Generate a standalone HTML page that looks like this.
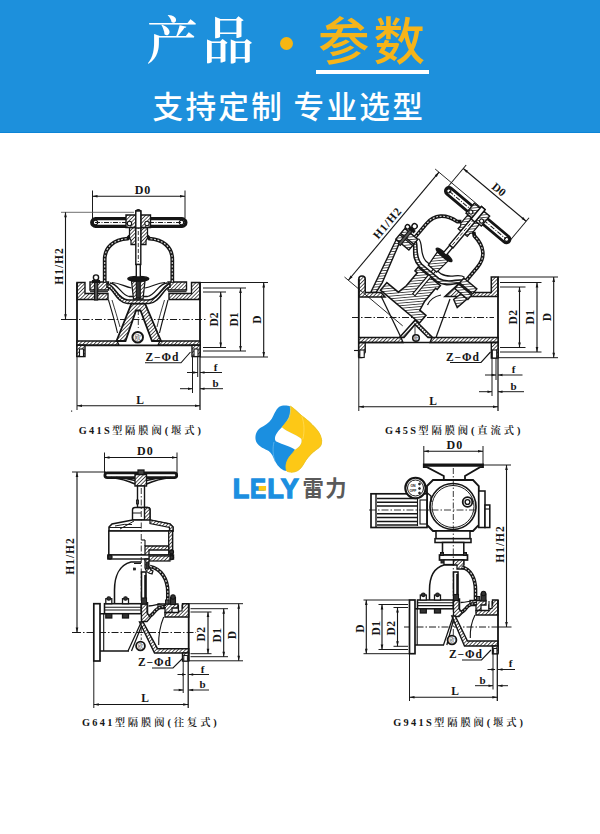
<!DOCTYPE html>
<html><head><meta charset="utf-8">
<style>
html,body{margin:0;padding:0;background:#fff;}
body{width:600px;height:834px;position:relative;overflow:hidden;font-family:"Liberation Sans","Noto Sans CJK SC",sans-serif;}
#hd{position:absolute;left:0;top:0;width:600px;height:132px;background:#1d90dc;border-bottom:1px solid #0c84d6;}
.t{position:absolute;white-space:nowrap;line-height:1;}
#t1{left:146.5px;top:16px;font-family:"Liberation Serif","Noto Serif CJK SC",serif;font-size:51.5px;letter-spacing:4.5px;color:#fff;font-weight:600;}
#dot{position:absolute;left:280px;top:37px;width:13px;height:13px;border-radius:50%;background:#f5b613;}
#t2{left:318px;top:16.5px;font-size:51.5px;letter-spacing:4px;color:#f5b41a;font-weight:500;}
#ul{position:absolute;left:316px;top:70px;width:113px;height:4px;background:#fff;}
#t3{left:152.5px;top:92px;font-size:30.6px;letter-spacing:2.3px;word-spacing:-1.3px;color:#fff;font-weight:500;}
svg{position:absolute;left:0;top:0;}
</style></head><body>
<div id="hd"></div>
<div class="t" id="t1">产品</div>
<div id="dot"></div>
<div class="t" id="t2">参数</div>
<div id="ul"></div>
<div class="t" id="t3">支持定制 专业选型</div>
<svg id="dw" width="600" height="834" viewBox="0 0 600 834" fill="none" stroke="#111" stroke-width="1">
<defs>
<pattern id="h" width="2.6" height="2.6" patternUnits="userSpaceOnUse" patternTransform="rotate(45)"><rect width="2.6" height="2.6" fill="#fff" stroke="none"/><line x1="0" y1="0" x2="0" y2="2.6" stroke="#222" stroke-width="1.5"/></pattern>
<pattern id="h2" width="2.6" height="2.6" patternUnits="userSpaceOnUse" patternTransform="rotate(-45)"><rect width="2.6" height="2.6" fill="#fff" stroke="none"/><line x1="0" y1="0" x2="0" y2="2.6" stroke="#222" stroke-width="1.5"/></pattern>
</defs>
<!--DRAW1-->
<g id="d1"><line x1="70" y1="319.5" x2="206" y2="319.5" stroke="#151515" stroke-width="0.9799999999999999" stroke-dasharray="7 2 1.5 2"/>
<line x1="138.3" y1="300" x2="138.3" y2="330" stroke="#151515" stroke-width="0.84" stroke-dasharray="5 2 1 2"/>
<path d="M77 282.5H85V293.5H108V299.5H77Z" stroke="#151515" stroke-width="1.4" fill="url(#h)" />
<path d="M200 282.5H191.5V293.5H169V299.5H200Z" stroke="#151515" stroke-width="1.4" fill="url(#h)" />
<path d="M90 282H108.5V290H90Z" stroke="#151515" stroke-width="1.4" fill="url(#h)" />
<path d="M186.5 282H168V290H186.5Z" stroke="#151515" stroke-width="1.4" fill="url(#h)" />
<line x1="90" y1="291.7" x2="108" y2="291.7" stroke="#151515" stroke-width="1.1199999999999999"/>
<line x1="168" y1="291.7" x2="186.5" y2="291.7" stroke="#151515" stroke-width="1.1199999999999999"/>
<line x1="77" y1="282.5" x2="77" y2="357" stroke="#151515" stroke-width="1.8199999999999998"/>
<line x1="200" y1="282.5" x2="200" y2="357" stroke="#151515" stroke-width="1.8199999999999998"/>
<path d="M77 341H117L119 345.3H77Z" stroke="#151515" stroke-width="1.4" fill="url(#h)" />
<path d="M200 341H160L158 345.3H200Z" stroke="#151515" stroke-width="1.4" fill="url(#h)" />
<line x1="77" y1="345.3" x2="200" y2="345.3" stroke="#151515" stroke-width="1.68"/>
<path d="M77 345.3H85V356.5H77Z" stroke="#151515" stroke-width="1.4" fill="url(#h)" />
<path d="M200 345.3H192V356.5H200Z" stroke="#151515" stroke-width="1.4" fill="url(#h)" />
<rect x="79.5" y="349" width="4" height="7.5" stroke="#151515" stroke-width="1.1199999999999999" fill="#fff"/>
<rect x="194" y="349" width="4" height="7.5" stroke="#151515" stroke-width="1.1199999999999999" fill="#fff"/>
<path d="M131.5 303.5H145L161 341H152L140.5 310.5H136L125.5 341H116.5Z" stroke="#151515" stroke-width="1.8199999999999998" fill="url(#h)" />
<path d="M108.5 300C112 312 115 322 117.5 333" stroke="#151515" stroke-width="1.1199999999999999" fill="none" />
<path d="M168 300C165 312 162 322 159.5 333" stroke="#151515" stroke-width="1.1199999999999999" fill="none" />
<path d="M112 300C115 310 117.5 318 120 327" stroke="#151515" stroke-width="0.84" fill="none" />
<path d="M164.5 300C161.5 310 159 318 157 327" stroke="#151515" stroke-width="0.84" fill="none" />
<circle cx="137.7" cy="337.3" r="5.3" stroke="#151515" stroke-width="1.9599999999999997" fill="#fff"/>
<text x="137.7" y="340" font-family="&quot;Liberation Serif&quot;,&quot;Noto Serif CJK SC&quot;,serif" font-size="6.5" font-weight="normal" text-anchor="middle" fill="#151515" stroke="none" stroke-width="0" >欧</text>
<path d="M107 283.5C114 284 117 299 128 300H148.5C159.5 299 163 284 170 283.5L170 287C163 288 160.5 302.5 149 303.5H127.5C116 302.5 114 288 107 287Z" stroke="#151515" stroke-width="1.54" fill="url(#h)" />
<path d="M110 283C118 283.5 121 295 129 296.5H147.5C155.5 295 158.5 283.5 167 283" stroke="#151515" stroke-width="1.26" fill="none" />
<path d="M112 282.5C120 283 124 286.5 131.5 288" stroke="#151515" stroke-width="1.1199999999999999" fill="none" />
<path d="M165 282.5C157 283 153 286.5 145 288" stroke="#151515" stroke-width="1.1199999999999999" fill="none" />
<path d="M131.5 281L145 281L143 299H133.5Z" stroke="#151515" stroke-width="1.26" fill="url(#h)" />
<rect x="136.3" y="281" width="4" height="17" stroke="#151515" stroke-width="1.1199999999999999" fill="#333"/>
<ellipse cx="138.3" cy="278.8" rx="10.5" ry="2.3" stroke="#151515" stroke-width="1.4" fill="#151515"/>
<path d="M104.7 282.5V259.5C104.7 247 114 239.5 127.5 238.7L130 236" stroke="#151515" stroke-width="3.78" fill="none" />
<path d="M172.3 282.5V259.5C172.3 247 163 239.5 149.5 238.7L147 236" stroke="#151515" stroke-width="3.78" fill="none" />
<path d="M104.7 282V259.5C104.7 247 114 239.5 127.5 238.7" stroke="#ddd" stroke-width="1.1199999999999999" fill="none" stroke-dasharray="2 1.6"/>
<path d="M172.3 282V259.5C172.3 247 163 239.5 149.5 238.7" stroke="#ddd" stroke-width="1.1199999999999999" fill="none" stroke-dasharray="2 1.6"/>
<path d="M129.5 227.5H135.8V244.5H131V240.5L129.5 238Z" stroke="#151515" stroke-width="1.26" fill="url(#h)" />
<path d="M147.5 227.5H140.8V244.5H146V240.5L147.5 238Z" stroke="#151515" stroke-width="1.26" fill="url(#h)" />
<rect x="135.8" y="211" width="5" height="53.5" stroke="#151515" stroke-width="1.4" fill="#fff"/>
<line x1="138.3" y1="213" x2="138.3" y2="262" stroke="#151515" stroke-width="0.84" stroke-dasharray="4 2"/>
<rect x="136.3" y="264.5" width="4" height="12.5" stroke="#151515" stroke-width="1.4" fill="#fff"/>
<path d="M136 211Q138.3 208.5 140.6 211" stroke="#151515" stroke-width="1.4" fill="none" />
<rect x="91.7" y="218.7" width="94.2" height="7.6" stroke="#151515" stroke-width="3.2199999999999998" fill="#fff" rx="3.8"/>
<line x1="95" y1="222.5" x2="182" y2="222.5" stroke="#151515" stroke-width="0.9799999999999999" stroke-dasharray="5 1.5 1 1.5"/>
<circle cx="95.5" cy="222.5" r="2.2" stroke="#151515" stroke-width="1.1199999999999999" fill="none"/>
<circle cx="181.5" cy="222.5" r="2.2" stroke="#151515" stroke-width="1.1199999999999999" fill="none"/>
<path d="M126 215H135.8V227.5H126Z" stroke="#151515" stroke-width="1.4" fill="url(#h)" />
<path d="M150.5 215H140.8V227.5H150.5Z" stroke="#151515" stroke-width="1.4" fill="url(#h)" />
<circle cx="129.5" cy="223.5" r="2.2" stroke="#151515" stroke-width="1.1199999999999999" fill="#fff"/>
<circle cx="147" cy="223.5" r="2.2" stroke="#151515" stroke-width="1.1199999999999999" fill="#fff"/>
<rect x="135.8" y="211" width="5" height="17" stroke="#151515" stroke-width="1.4" fill="#fff"/>
<rect x="94.5" y="279" width="3.2" height="21" stroke="#151515" stroke-width="1.1199999999999999" fill="#555"/>
<circle cx="96" cy="277.5" r="2.6" stroke="#151515" stroke-width="1.4" fill="#fff"/>
<rect x="92.5" y="280.5" width="7" height="2" stroke="#151515" stroke-width="1.1199999999999999" fill="#151515"/>
<line x1="92.5" y1="190.5" x2="92.5" y2="221" stroke="#151515" stroke-width="0.9799999999999999"/>
<line x1="185" y1="190.5" x2="185" y2="218" stroke="#151515" stroke-width="0.9799999999999999"/>
<line x1="92.5" y1="196.3" x2="185" y2="196.3" stroke="#151515" stroke-width="1.1199999999999999"/><path d="M185 196.3L180 197.6L180 195Z" fill="#151515" stroke="none"/><path d="M92.5 196.3L97.5 195L97.5 197.6Z" fill="#151515" stroke="none"/>
<text x="142.8" y="194.3" font-family="&quot;Liberation Serif&quot;,&quot;Noto Serif CJK SC&quot;,serif" font-size="12" font-weight="bold" text-anchor="middle" fill="#151515" stroke="none" stroke-width="0" letter-spacing="0.6" >D0</text>
<line x1="61" y1="212.3" x2="134" y2="212.3" stroke="#555" stroke-width="0.84"/>
<line x1="61" y1="319.5" x2="72" y2="319.5" stroke="#151515" stroke-width="0.9799999999999999"/>
<line x1="65.5" y1="212.3" x2="65.5" y2="319.3" stroke="#151515" stroke-width="1.1199999999999999"/><path d="M65.5 319.3L64.2 314.3L66.8 314.3Z" fill="#151515" stroke="none"/><path d="M65.5 212.3L66.8 217.3L64.2 217.3Z" fill="#151515" stroke="none"/>
<text x="62.5" y="266" font-family="&quot;Liberation Serif&quot;,&quot;Noto Serif CJK SC&quot;,serif" font-size="11.5" font-weight="bold" text-anchor="middle" fill="#151515" stroke="none" stroke-width="0" letter-spacing="1" transform="rotate(-90 62.5 266)" >H1/H2</text>
<line x1="200" y1="282.5" x2="268" y2="282.5" stroke="#151515" stroke-width="0.9799999999999999"/>
<line x1="200" y1="357" x2="268" y2="357" stroke="#151515" stroke-width="0.9799999999999999"/>
<line x1="263.7" y1="282.5" x2="263.7" y2="357" stroke="#151515" stroke-width="1.1199999999999999"/><path d="M263.7 357L262.4 352L265 352Z" fill="#151515" stroke="none"/><path d="M263.7 282.5L265 287.5L262.4 287.5Z" fill="#151515" stroke="none"/>
<text x="261" y="319.5" font-family="&quot;Liberation Serif&quot;,&quot;Noto Serif CJK SC&quot;,serif" font-size="11.5" font-weight="bold" text-anchor="middle" fill="#151515" stroke="none" stroke-width="0" transform="rotate(-90 261 319.5)" >D</text>
<line x1="203" y1="288" x2="246" y2="288" stroke="#151515" stroke-width="0.9799999999999999"/>
<line x1="203" y1="351" x2="246" y2="351" stroke="#151515" stroke-width="0.9799999999999999"/>
<line x1="240.5" y1="288" x2="240.5" y2="351" stroke="#151515" stroke-width="1.1199999999999999"/><path d="M240.5 351L239.2 346L241.8 346Z" fill="#151515" stroke="none"/><path d="M240.5 288L241.8 293L239.2 293Z" fill="#151515" stroke="none"/>
<text x="237.5" y="319.5" font-family="&quot;Liberation Serif&quot;,&quot;Noto Serif CJK SC&quot;,serif" font-size="11.5" font-weight="bold" text-anchor="middle" fill="#151515" stroke="none" stroke-width="0" transform="rotate(-90 237.5 319.5)" >D1</text>
<line x1="203" y1="292" x2="226" y2="292" stroke="#151515" stroke-width="0.9799999999999999"/>
<line x1="203" y1="347.5" x2="226" y2="347.5" stroke="#151515" stroke-width="0.9799999999999999"/>
<line x1="220.7" y1="292" x2="220.7" y2="347.5" stroke="#151515" stroke-width="1.1199999999999999"/><path d="M220.7 347.5L219.4 342.5L222 342.5Z" fill="#151515" stroke="none"/><path d="M220.7 292L222 297L219.4 297Z" fill="#151515" stroke="none"/>
<text x="217.8" y="319.5" font-family="&quot;Liberation Serif&quot;,&quot;Noto Serif CJK SC&quot;,serif" font-size="11.5" font-weight="bold" text-anchor="middle" fill="#151515" stroke="none" stroke-width="0" transform="rotate(-90 217.8 319.5)" >D2</text>
<line x1="192.5" y1="357" x2="192.5" y2="393" stroke="#151515" stroke-width="0.9799999999999999"/>
<line x1="197.7" y1="357" x2="197.7" y2="377" stroke="#151515" stroke-width="0.9799999999999999"/>
<line x1="187" y1="372.5" x2="197.7" y2="372.5" stroke="#151515" stroke-width="0.9799999999999999"/>
<path d="M197.7 372.5L193.2 373.8L193.2 371.2Z" fill="#151515" stroke="none"/>
<line x1="200" y1="372.5" x2="222" y2="372.5" stroke="#151515" stroke-width="0.9799999999999999"/>
<path d="M200 372.5L204.5 371.2L204.5 373.8Z" fill="#151515" stroke="none"/>
<text x="215.5" y="370.5" font-family="&quot;Liberation Serif&quot;,&quot;Noto Serif CJK SC&quot;,serif" font-size="11" font-weight="bold" text-anchor="middle" fill="#151515" stroke="none" stroke-width="0" >f</text>
<line x1="180" y1="388.7" x2="192.5" y2="388.7" stroke="#151515" stroke-width="0.9799999999999999"/>
<path d="M192.5 388.7L188 390L188 387.4Z" fill="#151515" stroke="none"/>
<line x1="200" y1="388.7" x2="223" y2="388.7" stroke="#151515" stroke-width="0.9799999999999999"/>
<path d="M200 388.7L204.5 387.4L204.5 390Z" fill="#151515" stroke="none"/>
<text x="215.5" y="386.5" font-family="&quot;Liberation Serif&quot;,&quot;Noto Serif CJK SC&quot;,serif" font-size="11" font-weight="bold" text-anchor="middle" fill="#151515" stroke="none" stroke-width="0" >b</text>
<line x1="77" y1="357" x2="77" y2="410" stroke="#151515" stroke-width="0.9799999999999999"/>
<line x1="200" y1="357" x2="200" y2="410" stroke="#151515" stroke-width="1.26"/>
<line x1="77" y1="405.8" x2="200" y2="405.8" stroke="#151515" stroke-width="1.1199999999999999"/><path d="M200 405.8L195 407.1L195 404.5Z" fill="#151515" stroke="none"/><path d="M77 405.8L82 404.5L82 407.1Z" fill="#151515" stroke="none"/>
<text x="140" y="403.5" font-family="&quot;Liberation Serif&quot;,&quot;Noto Serif CJK SC&quot;,serif" font-size="11.5" font-weight="bold" text-anchor="middle" fill="#151515" stroke="none" stroke-width="0" >L</text>
<text x="145.5" y="361.2" font-family="&quot;Liberation Serif&quot;,&quot;Noto Serif CJK SC&quot;,serif" font-size="11.5" font-weight="bold" text-anchor="start" fill="#151515" stroke="none" stroke-width="0" letter-spacing="0.9" >Z−Φd</text>
<path d="M145 362.8H181L190.5 352" stroke="#151515" stroke-width="1.1199999999999999" fill="none" />
<text x="78.7" y="434" font-family="&quot;Liberation Serif&quot;,&quot;Noto Serif CJK SC&quot;,serif" font-size="10.3" font-weight="500" text-anchor="start" fill="#151515" stroke="none" stroke-width="0" ><tspan font-weight="bold" letter-spacing="2.3">G41S</tspan><tspan letter-spacing="2.9" font-weight="600">型隔膜阀(堰式)</tspan></text>
<rect x="71" y="410.5" width="1.2" height="1.2" stroke="#151515" stroke-width="0.0" fill="#333"/></g>
<!--/DRAW1-->
<!--DRAW2-->
<g id="d2"><line x1="352" y1="317.5" x2="494" y2="317.5" stroke="#151515" stroke-width="0.9799999999999999" stroke-dasharray="7 2 1.5 2"/>
<path d="M358.8 279Q358.8 276 362 276Q365.2 276 365.2 279V292.5H381L385 297H358.8Z" stroke="#151515" stroke-width="1.54" fill="url(#h)" />
<line x1="358.8" y1="279" x2="358.8" y2="357.5" stroke="#151515" stroke-width="1.8199999999999998"/>
<path d="M358.8 337.5H401L403 342.5H358.8Z" stroke="#151515" stroke-width="1.4" fill="url(#h)" />
<path d="M358.8 342.5H365.2V352L362 357.5H358.8Z" stroke="#151515" stroke-width="1.4" fill="url(#h)" />
<rect x="359.8" y="350" width="4.4" height="7.5" stroke="#151515" stroke-width="1.1199999999999999" fill="#fff"/>
<line x1="354" y1="350.5" x2="358" y2="350.5" stroke="#151515" stroke-width="1.1199999999999999"/>
<path d="M498 277H491.3V292.5H470L458.8 283.8L445 296.5H498Z" stroke="#151515" stroke-width="1.54" fill="url(#h)" />
<line x1="498" y1="277" x2="498" y2="358" stroke="#151515" stroke-width="1.8199999999999998"/>
<path d="M498 337.5H432L430 342.5H498Z" stroke="#151515" stroke-width="1.4" fill="url(#h)" />
<path d="M498 342.5H491.3V358H498Z" stroke="#151515" stroke-width="1.4" fill="url(#h)" />
<rect x="492.3" y="350" width="4.4" height="8" stroke="#151515" stroke-width="1.1199999999999999" fill="#fff"/>
<line x1="358.8" y1="342.5" x2="498" y2="342.5" stroke="#151515" stroke-width="1.68"/>
<path d="M415 320L432.5 337.5H428L415 324.5L404 337.5H399.5Z" stroke="#151515" stroke-width="1.54" fill="url(#h)" />
<line x1="381" y1="296" x2="401" y2="337.5" stroke="#151515" stroke-width="1.26"/>
<line x1="450" y1="299" x2="436" y2="337.5" stroke="#151515" stroke-width="1.26"/>
<line x1="415" y1="323" x2="415" y2="337" stroke="#151515" stroke-width="0.84"/>
<circle cx="416" cy="338" r="3.3" stroke="#151515" stroke-width="1.54" fill="#fff"/>
<text x="416" y="339.8" font-family="&quot;Liberation Serif&quot;,&quot;Noto Serif CJK SC&quot;,serif" font-size="4.5" font-weight="normal" text-anchor="middle" fill="#151515" stroke="none" stroke-width="0" >欧</text>
<path d="M427.5 305Q431 297 441 295" stroke="#151515" stroke-width="1.26" fill="none" /><g transform="translate(477.5 215) rotate(40)"><line x1="-62" y1="-8" x2="0" y2="-8" stroke="#151515" stroke-width="0.84"/>
<line x1="-62" y1="133" x2="14" y2="133" stroke="#151515" stroke-width="0.84"/>
<line x1="-57" y1="-8" x2="-57" y2="133" stroke="#151515" stroke-width="1.1199999999999999"/><path d="M-57 133L-58.3 128L-55.7 128Z" fill="#151515" stroke="none"/><path d="M-57 -8L-55.7 -3L-58.3 -3Z" fill="#151515" stroke="none"/>
<text x="-60" y="64" font-family="&quot;Liberation Serif&quot;,&quot;Noto Serif CJK SC&quot;,serif" font-size="11.5" font-weight="bold" text-anchor="middle" fill="#151515" stroke="none" stroke-width="0" letter-spacing="1" transform="rotate(-90 -60 64)" >H1/H2</text>
<line x1="-40.8" y1="-2" x2="-40.8" y2="-31" stroke="#151515" stroke-width="0.9799999999999999"/>
<line x1="41.3" y1="-2" x2="41.3" y2="-31" stroke="#151515" stroke-width="0.9799999999999999"/>
<line x1="-40.8" y1="-26.5" x2="41.3" y2="-26.5" stroke="#151515" stroke-width="1.1199999999999999"/><path d="M41.3 -26.5L36.3 -25.2L36.3 -27.8Z" fill="#151515" stroke="none"/><path d="M-40.8 -26.5L-35.8 -27.8L-35.8 -25.2Z" fill="#151515" stroke="none"/>
<text x="0" y="-29.5" font-family="&quot;Liberation Serif&quot;,&quot;Noto Serif CJK SC&quot;,serif" font-size="11.5" font-weight="bold" text-anchor="middle" fill="#151515" stroke="none" stroke-width="0" >D0</text>
<path d="M-46.5 71H-42L-29.5 113L-28 124L-32 128Z" stroke="#151515" stroke-width="1.4" fill="url(#h)" />
<path d="M46 71H38L36 80L44 84Z" stroke="#151515" stroke-width="1.4" fill="url(#h)" />
<path d="M-26 110H-11L-9 100V83H-12V78H17V83H15V100L17 110H25V120H-26Z" stroke="#151515" stroke-width="1.54" fill="url(#h)" />
<rect x="1" y="62" width="3" height="40" stroke="#151515" stroke-width="1.1199999999999999" fill="#fff"/>
<path d="M-33 58.5C-26 59 -23 72 -11 73.5H11C23 72 26 59 33 58.5L33 62C27 63 25 76 11 77H-11C-25 76 -27 63 -33 62Z" stroke="#151515" stroke-width="1.54" fill="url(#h)" />
<path d="M-30 56C-23 56.5 -20 67 -10 68.5H10C20 67 23 56.5 30 56" stroke="#151515" stroke-width="1.26" fill="none" />
<path d="M-7 54H7L5.5 70H-5.5Z" stroke="#151515" stroke-width="1.26" fill="url(#h)" />
<ellipse cx="0" cy="52" rx="10" ry="2.3" stroke="#151515" stroke-width="1.4" fill="#151515"/>
<path d="M-47 57H-30V63.5H-47Z" stroke="#151515" stroke-width="1.4" fill="url(#h)" />
<path d="M47 57H30V63.5H47Z" stroke="#151515" stroke-width="1.4" fill="url(#h)" />
<path d="M-47 65H-30V71H-47Z" stroke="#151515" stroke-width="1.4" fill="url(#h)" />
<path d="M47 65H30V71H47Z" stroke="#151515" stroke-width="1.4" fill="url(#h)" />
<rect x="-42.5" y="50" width="3" height="23" stroke="#151515" stroke-width="1.1199999999999999" fill="#555"/>
<circle cx="-41" cy="49" r="2.6" stroke="#151515" stroke-width="1.4" fill="#fff"/>
<rect x="-44.5" y="52.5" width="7" height="2.2" stroke="#151515" stroke-width="1.1199999999999999" fill="#151515"/>
<circle cx="-46" cy="54" r="2.2" stroke="#151515" stroke-width="1.4" fill="#fff"/>
<path d="M-33.5 57V40C-33.5 27 -25 19.5 -11 18L-8 15.5" stroke="#151515" stroke-width="3.78" fill="none" />
<path d="M33.5 57V40C33.5 27 25 19.5 11 18L8 15.5" stroke="#151515" stroke-width="3.78" fill="none" />
<path d="M-33.5 56.5V40C-33.5 27 -25 19.5 -11 18" stroke="#ddd" stroke-width="1.1199999999999999" fill="none" stroke-dasharray="2 1.6"/>
<path d="M33.5 56.5V40C33.5 27 25 19.5 11 18" stroke="#ddd" stroke-width="1.1199999999999999" fill="none" stroke-dasharray="2 1.6"/>
<path d="M-7.5 6H-2.4V23H-6V19L-7.5 17Z" stroke="#151515" stroke-width="1.26" fill="url(#h)" />
<path d="M7.5 6H2.4V23H6V19L7.5 17Z" stroke="#151515" stroke-width="1.26" fill="url(#h)" />
<rect x="-2.4" y="-9" width="4.8" height="50" stroke="#151515" stroke-width="1.4" fill="#fff"/>
<line x1="0" y1="-7" x2="0" y2="40" stroke="#151515" stroke-width="0.84" stroke-dasharray="4 2"/>
<rect x="-1.9" y="41" width="3.8" height="10" stroke="#151515" stroke-width="1.4" fill="#fff"/>
<rect x="-40.8" y="-3.6" width="82.1" height="7.2" stroke="#151515" stroke-width="2.8" fill="#fff" rx="3.6"/>
<line x1="-37" y1="0" x2="37" y2="0" stroke="#151515" stroke-width="0.9799999999999999" stroke-dasharray="5 1.5 1 1.5"/>
<circle cx="-37.5" cy="0" r="2" stroke="#151515" stroke-width="1.1199999999999999" fill="none"/>
<circle cx="38" cy="0" r="2" stroke="#151515" stroke-width="1.1199999999999999" fill="none"/>
<path d="M-10 -7H-2.4V6H-10Z" stroke="#151515" stroke-width="1.4" fill="url(#h)" />
<path d="M10 -7H2.4V6H10Z" stroke="#151515" stroke-width="1.4" fill="url(#h)" />
<circle cx="-7" cy="2" r="2" stroke="#151515" stroke-width="1.1199999999999999" fill="#fff"/>
<circle cx="7" cy="2" r="2" stroke="#151515" stroke-width="1.1199999999999999" fill="#fff"/>
<rect x="-2.4" y="-9" width="4.8" height="16" stroke="#151515" stroke-width="1.4" fill="#fff"/></g><line x1="498" y1="277" x2="558" y2="277" stroke="#151515" stroke-width="0.9799999999999999"/>
<line x1="498" y1="357.7" x2="558" y2="357.7" stroke="#151515" stroke-width="0.9799999999999999"/>
<line x1="553.7" y1="277" x2="553.7" y2="357.7" stroke="#151515" stroke-width="1.1199999999999999"/><path d="M553.7 357.7L552.4 352.7L555 352.7Z" fill="#151515" stroke="none"/><path d="M553.7 277L555 282L552.4 282Z" fill="#151515" stroke="none"/>
<text x="551" y="317" font-family="&quot;Liberation Serif&quot;,&quot;Noto Serif CJK SC&quot;,serif" font-size="11.5" font-weight="bold" text-anchor="middle" fill="#151515" stroke="none" stroke-width="0" transform="rotate(-90 551 317)" >D</text>
<line x1="500" y1="282.5" x2="541.5" y2="282.5" stroke="#151515" stroke-width="0.9799999999999999"/>
<line x1="500" y1="352" x2="541.5" y2="352" stroke="#151515" stroke-width="0.9799999999999999"/>
<line x1="537" y1="282.5" x2="537" y2="352" stroke="#151515" stroke-width="1.1199999999999999"/><path d="M537 352L535.7 347L538.3 347Z" fill="#151515" stroke="none"/><path d="M537 282.5L538.3 287.5L535.7 287.5Z" fill="#151515" stroke="none"/>
<text x="534" y="317" font-family="&quot;Liberation Serif&quot;,&quot;Noto Serif CJK SC&quot;,serif" font-size="11.5" font-weight="bold" text-anchor="middle" fill="#151515" stroke="none" stroke-width="0" letter-spacing="0.5" transform="rotate(-90 534 317)" >D1</text>
<line x1="500" y1="287" x2="525.5" y2="287" stroke="#151515" stroke-width="0.9799999999999999"/>
<line x1="500" y1="347.5" x2="525.5" y2="347.5" stroke="#151515" stroke-width="0.9799999999999999"/>
<line x1="519.5" y1="287" x2="519.5" y2="347.5" stroke="#151515" stroke-width="1.1199999999999999"/><path d="M519.5 347.5L518.2 342.5L520.8 342.5Z" fill="#151515" stroke="none"/><path d="M519.5 287L520.8 292L518.2 292Z" fill="#151515" stroke="none"/>
<text x="516.5" y="317" font-family="&quot;Liberation Serif&quot;,&quot;Noto Serif CJK SC&quot;,serif" font-size="11.5" font-weight="bold" text-anchor="middle" fill="#151515" stroke="none" stroke-width="0" letter-spacing="0.5" transform="rotate(-90 516.5 317)" >D2</text>
<line x1="492" y1="358" x2="492" y2="396" stroke="#151515" stroke-width="0.9799999999999999"/>
<line x1="496" y1="358" x2="496" y2="380" stroke="#151515" stroke-width="0.9799999999999999"/>
<line x1="485" y1="375" x2="496" y2="375" stroke="#151515" stroke-width="0.9799999999999999"/>
<path d="M496 375L491.5 376.3L491.5 373.7Z" fill="#151515" stroke="none"/>
<line x1="498" y1="375" x2="522.5" y2="375" stroke="#151515" stroke-width="0.9799999999999999"/>
<path d="M498 375L502.5 373.7L502.5 376.3Z" fill="#151515" stroke="none"/>
<text x="513.5" y="373" font-family="&quot;Liberation Serif&quot;,&quot;Noto Serif CJK SC&quot;,serif" font-size="11" font-weight="bold" text-anchor="middle" fill="#151515" stroke="none" stroke-width="0" >f</text>
<line x1="479" y1="391.7" x2="492" y2="391.7" stroke="#151515" stroke-width="0.9799999999999999"/>
<path d="M492 391.7L487.5 393L487.5 390.4Z" fill="#151515" stroke="none"/>
<line x1="498" y1="391.7" x2="524" y2="391.7" stroke="#151515" stroke-width="0.9799999999999999"/>
<path d="M498 391.7L502.5 390.4L502.5 393Z" fill="#151515" stroke="none"/>
<text x="513.5" y="389.5" font-family="&quot;Liberation Serif&quot;,&quot;Noto Serif CJK SC&quot;,serif" font-size="11" font-weight="bold" text-anchor="middle" fill="#151515" stroke="none" stroke-width="0" >b</text>
<line x1="358.8" y1="357.5" x2="358.8" y2="411" stroke="#151515" stroke-width="0.9799999999999999"/>
<line x1="498" y1="358" x2="498" y2="411" stroke="#151515" stroke-width="1.26"/>
<line x1="358.8" y1="406.7" x2="498" y2="406.7" stroke="#151515" stroke-width="1.1199999999999999"/><path d="M498 406.7L493 408L493 405.4Z" fill="#151515" stroke="none"/><path d="M358.8 406.7L363.8 405.4L363.8 408Z" fill="#151515" stroke="none"/>
<text x="433" y="404.5" font-family="&quot;Liberation Serif&quot;,&quot;Noto Serif CJK SC&quot;,serif" font-size="11.5" font-weight="bold" text-anchor="middle" fill="#151515" stroke="none" stroke-width="0" >L</text>
<text x="446" y="360.7" font-family="&quot;Liberation Serif&quot;,&quot;Noto Serif CJK SC&quot;,serif" font-size="11.5" font-weight="bold" text-anchor="start" fill="#151515" stroke="none" stroke-width="0" letter-spacing="0.9" >Z−Φd</text>
<path d="M450 362.5H481L490.5 352" stroke="#151515" stroke-width="1.1199999999999999" fill="none" />
<text x="385" y="434" font-family="&quot;Liberation Serif&quot;,&quot;Noto Serif CJK SC&quot;,serif" font-size="10.3" font-weight="500" text-anchor="start" fill="#151515" stroke="none" stroke-width="0" ><tspan font-weight="bold" letter-spacing="2.3">G45S</tspan><tspan letter-spacing="2.9" font-weight="600">型隔膜阀(直流式)</tspan></text></g>
<!--/DRAW2-->
<!--DRAW3-->
<g id="d3"><line x1="74" y1="632.5" x2="196" y2="632.5" stroke="#151515" stroke-width="0.9799999999999999" stroke-dasharray="7 2 1.5 2"/>
<rect x="104.9" y="472.9" width="71.8" height="4.8" stroke="#151515" stroke-width="2.8" fill="#fff" rx="2.4"/>
<path d="M111 477.5Q124 479 135 484M116 477.5Q126 478 135 480.5M171 477.5Q158 479 146.5 484M166 477.5Q156 478 146.5 480.5" stroke="#151515" stroke-width="1.68" fill="none" />
<rect x="135" y="474.5" width="11.5" height="11.5" stroke="#151515" stroke-width="1.4" fill="url(#h)"/>
<rect x="138" y="470" width="6" height="4.5" stroke="#151515" stroke-width="1.26" fill="#444"/>
<rect x="137.5" y="486" width="7" height="21.5" stroke="#151515" stroke-width="1.4" fill="#fff"/>
<rect x="136.5" y="500" width="2" height="4" stroke="#151515" stroke-width="0.84" fill="#444"/>
<path d="M132.5 520V510Q132.5 507.5 135 507.5H147.5Q150 507.5 150 510V520Z" stroke="#151515" stroke-width="1.4" fill="#fff" />
<path d="M144.5 507.5H147.5Q150 507.5 150 510V526H144.5Z" stroke="#151515" stroke-width="1.4" fill="url(#h)" />
<line x1="132.5" y1="513" x2="141" y2="513" stroke="#151515" stroke-width="0.9799999999999999"/>
<path d="M132.5 520L112 524L109 527V531H173V527L170 524L150 520Z" stroke="#151515" stroke-width="1.54" fill="#fff" />
<path d="M150 520L170 524L173 527V531H169.5V527.5L150 523.5Z" stroke="#151515" stroke-width="1.26" fill="url(#h)" />
<path d="M115 526Q125 523.5 132 524.5M120 529Q128 524.5 134 521" stroke="#151515" stroke-width="0.9799999999999999" fill="none" />
<line x1="109" y1="527.5" x2="141" y2="527.5" stroke="#151515" stroke-width="0.9799999999999999"/>
<rect x="108.8" y="531" width="63.7" height="24" stroke="#151515" stroke-width="1.54" fill="#fff"/>
<rect x="168.7" y="531" width="3.8" height="24" stroke="#151515" stroke-width="1.26" fill="url(#h)"/>
<path d="M145 546H168.7V550H149V560H145Z" stroke="#151515" stroke-width="1.26" fill="url(#h)" />
<line x1="141.3" y1="540" x2="145" y2="540" stroke="#151515" stroke-width="1.1199999999999999"/>
<line x1="145" y1="540" x2="145" y2="546" stroke="#151515" stroke-width="1.1199999999999999"/>
<rect x="107.8" y="555" width="65.7" height="4" stroke="#151515" stroke-width="1.4" fill="#fff"/>
<circle cx="110" cy="557" r="2" stroke="#151515" stroke-width="1.26" fill="#333"/>
<circle cx="171.5" cy="552" r="2" stroke="#151515" stroke-width="1.26" fill="#333"/>
<circle cx="171.5" cy="557.5" r="2" stroke="#151515" stroke-width="1.26" fill="#333"/>
<rect x="149" y="556" width="21" height="5" stroke="#151515" stroke-width="1.26" fill="url(#h)"/>
<path d="M145 559H149V566Q150 570 153 571L152 574Q146 573 145 568Z" stroke="#151515" stroke-width="1.26" fill="url(#h)" />
<rect x="146" y="562" width="2.5" height="7" stroke="#151515" stroke-width="0.84" fill="#333"/>
<path d="M141 562H131C119 565 114.5 577 114.5 590V603.7" stroke="#151515" stroke-width="1.54" fill="none" />
<path d="M150 566.5C161 568.5 167.8 579 167.8 592V603.7" stroke="#151515" stroke-width="3.6399999999999997" fill="none" />
<path d="M150 566.5C161 568.5 167.8 579 167.8 592V603.7" stroke="#ddd" stroke-width="1.1199999999999999" fill="none" stroke-dasharray="2 1.6"/>
<line x1="134" y1="563.5" x2="141" y2="563.5" stroke="#151515" stroke-width="0.9799999999999999"/>
<rect x="133.5" y="568" width="2" height="2" stroke="#151515" stroke-width="0.7" fill="#333"/>
<rect x="141.5" y="572" width="4.5" height="27" stroke="#151515" stroke-width="1.54" fill="#fff"/>
<line x1="145.2" y1="575" x2="145.2" y2="598" stroke="#151515" stroke-width="1.9599999999999997"/>
<rect x="104.5" y="603.7" width="36.7" height="10" stroke="#151515" stroke-width="1.54" fill="#fff"/>
<line x1="104.5" y1="607.3" x2="141" y2="607.3" stroke="#151515" stroke-width="1.1199999999999999"/>
<line x1="104.5" y1="610" x2="141" y2="610" stroke="#151515" stroke-width="1.1199999999999999"/>
<rect x="105.8" y="598.7" width="6" height="5" stroke="#151515" stroke-width="1.26" fill="#fff"/>
<circle cx="108.8" cy="598.5" r="1.8" stroke="#151515" stroke-width="1.1199999999999999" fill="#333"/>
<rect x="105.8" y="613.7" width="6" height="4.3" stroke="#151515" stroke-width="1.26" fill="#333"/>
<rect x="122.5" y="598.7" width="6" height="5" stroke="#151515" stroke-width="1.26" fill="#fff"/>
<circle cx="125.5" cy="598.5" r="1.8" stroke="#151515" stroke-width="1.1199999999999999" fill="#333"/>
<rect x="122.5" y="613.7" width="6" height="4.3" stroke="#151515" stroke-width="1.26" fill="#333"/>
<path d="M158 604H178V608H172V612.5H165V608.5H158Z" stroke="#151515" stroke-width="1.26" fill="url(#h)" />
<rect x="170.5" y="597.5" width="5" height="7" stroke="#151515" stroke-width="1.1199999999999999" fill="#333"/>
<circle cx="173" cy="597" r="2.2" stroke="#151515" stroke-width="1.1199999999999999" fill="#333"/>
<rect x="165.5" y="600" width="3.5" height="4" stroke="#151515" stroke-width="0.9799999999999999" fill="#555"/>
<path d="M141.5 603.7H146.5V613C147 618 150 617 153 613.5C157 608 160 606.5 166 606.5" stroke="#151515" stroke-width="3.5" fill="none" />
<path d="M141.5 603.7H146.5V613C147 618 150 617 153 613.5C157 608 160 606.5 166 606.5" stroke="#ccc" stroke-width="1.1199999999999999" fill="none" stroke-dasharray="1.6 1.6"/>
<path d="M148.5 606C153 606 157 604.5 160 604" stroke="#151515" stroke-width="1.26" fill="none" />
<path d="M141.5 604H147V613L150.5 617.5L147 621.5H141.5Z" stroke="#151515" stroke-width="1.26" fill="url(#h)" />
<rect x="141.5" y="598" width="5" height="6" stroke="#151515" stroke-width="1.1199999999999999" fill="#333"/>
<rect x="93.8" y="603.7" width="6.2" height="57.3" stroke="#151515" stroke-width="1.68" fill="#fff"/>
<path d="M100 613.7H104.5M100 651H129" stroke="#151515" stroke-width="1.54" fill="none" />
<line x1="103.7" y1="613.7" x2="103.7" y2="651" stroke="#151515" stroke-width="1.1199999999999999"/>
<path d="M141.3 622L128 651M141.3 626.5L131.5 651" stroke="#151515" stroke-width="1.26" fill="none" />
<path d="M139.5 622H143L157.5 648.7H188.7V653H154.5Z" stroke="#151515" stroke-width="1.4" fill="url(#h)" />
<path d="M163.7 617C160 626 158.5 636 158.7 645" stroke="#151515" stroke-width="1.1199999999999999" fill="none" />
<circle cx="140.5" cy="646" r="4.4" stroke="#151515" stroke-width="1.8199999999999998" fill="#fff"/>
<text x="140.5" y="648.2" font-family="&quot;Liberation Serif&quot;,&quot;Noto Serif CJK SC&quot;,serif" font-size="5.5" font-weight="normal" text-anchor="middle" fill="#151515" stroke="none" stroke-width="0" >欧</text>
<path d="M165 612.5H178.5V608H182.5V603.7H188.7V617H165Z" stroke="#151515" stroke-width="1.4" fill="url(#h)" />
<path d="M178.5 604.5V611H182V604.5" stroke="#151515" stroke-width="1.1199999999999999" fill="#fff" />
<line x1="188.7" y1="603.7" x2="188.7" y2="661" stroke="#151515" stroke-width="1.8199999999999998"/>
<path d="M182.5 653H188.7V661H182.5Z" stroke="#151515" stroke-width="1.4" fill="url(#h)" />
<rect x="183.8" y="655.5" width="3.6" height="5.5" stroke="#151515" stroke-width="0.9799999999999999" fill="#fff"/>
<line x1="141.25" y1="488" x2="141.25" y2="640" stroke="#151515" stroke-width="0.84" stroke-dasharray="6 2 1.5 2"/>
<line x1="104.5" y1="452.5" x2="104.5" y2="477" stroke="#151515" stroke-width="0.9799999999999999"/>
<line x1="177" y1="452.5" x2="177" y2="477" stroke="#151515" stroke-width="0.9799999999999999"/>
<line x1="104.5" y1="457.5" x2="177" y2="457.5" stroke="#151515" stroke-width="1.1199999999999999"/><path d="M177 457.5L172 458.8L172 456.2Z" fill="#151515" stroke="none"/><path d="M104.5 457.5L109.5 456.2L109.5 458.8Z" fill="#151515" stroke="none"/>
<text x="145.5" y="454.7" font-family="&quot;Liberation Serif&quot;,&quot;Noto Serif CJK SC&quot;,serif" font-size="12" font-weight="bold" text-anchor="middle" fill="#151515" stroke="none" stroke-width="0" letter-spacing="1.2" >D0</text>
<line x1="72" y1="472" x2="106" y2="472" stroke="#151515" stroke-width="0.9799999999999999"/>
<line x1="72" y1="632.5" x2="80" y2="632.5" stroke="#151515" stroke-width="0.9799999999999999"/>
<line x1="77" y1="472" x2="77" y2="632.5" stroke="#151515" stroke-width="1.1199999999999999"/><path d="M77 632.5L75.7 627.5L78.3 627.5Z" fill="#151515" stroke="none"/><path d="M77 472L78.3 477L75.7 477Z" fill="#151515" stroke="none"/>
<text x="74" y="556" font-family="&quot;Liberation Serif&quot;,&quot;Noto Serif CJK SC&quot;,serif" font-size="11.5" font-weight="bold" text-anchor="middle" fill="#151515" stroke="none" stroke-width="0" letter-spacing="1" transform="rotate(-90 74 556)" >H1/H2</text>
<line x1="188.7" y1="603.7" x2="243" y2="603.7" stroke="#151515" stroke-width="0.9799999999999999"/>
<line x1="188.7" y1="660.8" x2="243" y2="660.8" stroke="#151515" stroke-width="0.9799999999999999"/>
<line x1="238.7" y1="603.7" x2="238.7" y2="660.8" stroke="#151515" stroke-width="1.1199999999999999"/><path d="M238.7 660.8L237.4 655.8L240 655.8Z" fill="#151515" stroke="none"/><path d="M238.7 603.7L240 608.7L237.4 608.7Z" fill="#151515" stroke="none"/>
<text x="236.3" y="635" font-family="&quot;Liberation Serif&quot;,&quot;Noto Serif CJK SC&quot;,serif" font-size="11.5" font-weight="bold" text-anchor="middle" fill="#151515" stroke="none" stroke-width="0" transform="rotate(-90 236.3 635)" >D</text>
<line x1="190.5" y1="608.7" x2="228" y2="608.7" stroke="#151515" stroke-width="0.9799999999999999"/>
<line x1="190.5" y1="656.7" x2="228" y2="656.7" stroke="#151515" stroke-width="0.9799999999999999"/>
<line x1="223.7" y1="608.7" x2="223.7" y2="656.7" stroke="#151515" stroke-width="1.1199999999999999"/><path d="M223.7 656.7L222.4 651.7L225 651.7Z" fill="#151515" stroke="none"/><path d="M223.7 608.7L225 613.7L222.4 613.7Z" fill="#151515" stroke="none"/>
<text x="221.3" y="635" font-family="&quot;Liberation Serif&quot;,&quot;Noto Serif CJK SC&quot;,serif" font-size="11.5" font-weight="bold" text-anchor="middle" fill="#151515" stroke="none" stroke-width="0" letter-spacing="0.5" transform="rotate(-90 221.3 635)" >D1</text>
<line x1="190.5" y1="612" x2="211.5" y2="612" stroke="#151515" stroke-width="0.9799999999999999"/>
<line x1="190.5" y1="653.7" x2="211.5" y2="653.7" stroke="#151515" stroke-width="0.9799999999999999"/>
<line x1="208" y1="612" x2="208" y2="653.7" stroke="#151515" stroke-width="1.1199999999999999"/><path d="M208 653.7L206.7 648.7L209.3 648.7Z" fill="#151515" stroke="none"/><path d="M208 612L209.3 617L206.7 617Z" fill="#151515" stroke="none"/>
<text x="205" y="634" font-family="&quot;Liberation Serif&quot;,&quot;Noto Serif CJK SC&quot;,serif" font-size="11.5" font-weight="bold" text-anchor="middle" fill="#151515" stroke="none" stroke-width="0" letter-spacing="0.5" transform="rotate(-90 205 634)" >D2</text>
<line x1="183.2" y1="661" x2="183.2" y2="693" stroke="#151515" stroke-width="0.9799999999999999"/>
<line x1="188.2" y1="661" x2="188.2" y2="708" stroke="#151515" stroke-width="1.26"/>
<line x1="177.5" y1="674.5" x2="185.5" y2="674.5" stroke="#151515" stroke-width="0.9799999999999999"/>
<path d="M186 674.5L182 675.8L182 673.2Z" fill="#151515" stroke="none"/>
<line x1="188.7" y1="674.5" x2="209" y2="674.5" stroke="#151515" stroke-width="0.9799999999999999"/>
<path d="M188.7 674.5L193.2 673.2L193.2 675.8Z" fill="#151515" stroke="none"/>
<text x="202.5" y="672.5" font-family="&quot;Liberation Serif&quot;,&quot;Noto Serif CJK SC&quot;,serif" font-size="11" font-weight="bold" text-anchor="middle" fill="#151515" stroke="none" stroke-width="0" >f</text>
<line x1="173.5" y1="690" x2="183.2" y2="690" stroke="#151515" stroke-width="0.9799999999999999"/>
<path d="M183.2 690L178.7 691.3L178.7 688.7Z" fill="#151515" stroke="none"/>
<line x1="188.7" y1="690" x2="209" y2="690" stroke="#151515" stroke-width="0.9799999999999999"/>
<path d="M188.7 690L193.2 688.7L193.2 691.3Z" fill="#151515" stroke="none"/>
<text x="202.5" y="687.8" font-family="&quot;Liberation Serif&quot;,&quot;Noto Serif CJK SC&quot;,serif" font-size="11" font-weight="bold" text-anchor="middle" fill="#151515" stroke="none" stroke-width="0" >b</text>
<line x1="93.8" y1="661" x2="93.8" y2="708" stroke="#151515" stroke-width="0.9799999999999999"/>
<line x1="93.8" y1="704.5" x2="188.2" y2="704.5" stroke="#151515" stroke-width="1.1199999999999999"/><path d="M188.2 704.5L183.2 705.8L183.2 703.2Z" fill="#151515" stroke="none"/><path d="M93.8 704.5L98.8 703.2L98.8 705.8Z" fill="#151515" stroke="none"/>
<text x="145" y="702" font-family="&quot;Liberation Serif&quot;,&quot;Noto Serif CJK SC&quot;,serif" font-size="11.5" font-weight="bold" text-anchor="middle" fill="#151515" stroke="none" stroke-width="0" >L</text>
<text x="138" y="666" font-family="&quot;Liberation Serif&quot;,&quot;Noto Serif CJK SC&quot;,serif" font-size="11.5" font-weight="bold" text-anchor="start" fill="#151515" stroke="none" stroke-width="0" letter-spacing="0.9" >Z−Φd</text>
<path d="M152 668H173L182.5 658.5" stroke="#151515" stroke-width="1.1199999999999999" fill="none" />
<text x="82" y="725.5" font-family="&quot;Liberation Serif&quot;,&quot;Noto Serif CJK SC&quot;,serif" font-size="10.3" font-weight="500" text-anchor="start" fill="#151515" stroke="none" stroke-width="0" ><tspan font-weight="bold" letter-spacing="2.3">G641</tspan><tspan letter-spacing="2.9" font-weight="600">型隔膜阀(往复式)</tspan></text></g>
<!--/DRAW3-->
<!--DRAW4-->
<g id="d4"><line x1="404" y1="627" x2="500" y2="627" stroke="#151515" stroke-width="0.9799999999999999" stroke-dasharray="7 2 1.5 2"/>
<path d="M423.8 464.5H483V467.2H480L465 476V480H443.8V476L427 467.2H423.8Z" stroke="#151515" stroke-width="1.8199999999999998" fill="#fff" />
<line x1="423.8" y1="465.6" x2="483" y2="465.6" stroke="#151515" stroke-width="2.2399999999999998"/>
<path d="M433 480H473L478.8 486V525L473 531H433L427 525V486Z" stroke="#151515" stroke-width="1.8199999999999998" fill="#fff" />
<circle cx="453" cy="506.5" r="23" stroke="#151515" stroke-width="1.68" fill="none"/>
<circle cx="453" cy="506.5" r="21" stroke="#151515" stroke-width="0.9799999999999999" fill="none"/>
<circle cx="467.5" cy="502" r="4.8" stroke="#151515" stroke-width="1.8199999999999998" fill="#fff"/>
<circle cx="467.5" cy="502" r="2.4" stroke="#151515" stroke-width="1.4" fill="none"/>
<rect x="478.8" y="491" width="6.2" height="36.5" stroke="#151515" stroke-width="1.54" fill="#fff"/>
<rect x="485" y="505" width="4.8" height="22.5" stroke="#151515" stroke-width="1.54" fill="#fff"/>
<line x1="485" y1="509" x2="490" y2="509" stroke="#151515" stroke-width="1.1199999999999999"/>
<rect x="371" y="493.8" width="56" height="33.7" stroke="#151515" stroke-width="1.68" fill="#fff"/>
<line x1="376" y1="493.8" x2="376" y2="527.5" stroke="#151515" stroke-width="1.4"/>
<line x1="377" y1="498.5" x2="417.5" y2="498.5" stroke="#151515" stroke-width="1.54"/>
<line x1="377" y1="502.3" x2="417.5" y2="502.3" stroke="#151515" stroke-width="1.54"/>
<line x1="377" y1="506.1" x2="417.5" y2="506.1" stroke="#151515" stroke-width="1.54"/>
<line x1="377" y1="513.8" x2="417.5" y2="513.8" stroke="#151515" stroke-width="1.54"/>
<line x1="377" y1="517.6" x2="417.5" y2="517.6" stroke="#151515" stroke-width="1.54"/>
<line x1="377" y1="521.4" x2="417.5" y2="521.4" stroke="#151515" stroke-width="1.54"/>
<line x1="377" y1="525" x2="417.5" y2="525" stroke="#151515" stroke-width="1.54"/>
<path d="M417.5 496V526" stroke="#151515" stroke-width="1.1199999999999999" fill="none" />
<rect x="420" y="500" width="7" height="24" stroke="#151515" stroke-width="1.1199999999999999" fill="none"/>
<circle cx="415.5" cy="488" r="10.2" stroke="#151515" stroke-width="2.0999999999999996" fill="#fff"/>
<circle cx="415.5" cy="488" r="8" stroke="#151515" stroke-width="0.9799999999999999" fill="none"/>
<text x="413" y="487" font-family="&quot;Liberation Sans&quot;,&quot;Noto Sans CJK SC&quot;,sans-serif" font-size="3.5" font-weight="bold" text-anchor="middle" fill="#151515" stroke="none" stroke-width="0" >ON</text>
<text x="413" y="492" font-family="&quot;Liberation Sans&quot;,&quot;Noto Sans CJK SC&quot;,sans-serif" font-size="3.5" font-weight="bold" text-anchor="middle" fill="#151515" stroke="none" stroke-width="0" >OFF</text>
<circle cx="419.5" cy="484" r="1" stroke="#151515" stroke-width="0.7" fill="#222"/>
<circle cx="419.5" cy="488.5" r="1" stroke="#151515" stroke-width="0.7" fill="#222"/>
<circle cx="419.5" cy="493" r="1" stroke="#151515" stroke-width="0.7" fill="#222"/>
<path d="M425 491L431 496V502" stroke="#151515" stroke-width="1.4" fill="none" />
<rect x="436" y="531" width="34" height="7.7" stroke="#151515" stroke-width="1.54" fill="#fff"/>
<rect x="435" y="538.7" width="36" height="3.8" stroke="#151515" stroke-width="1.54" fill="#fff"/>
<rect x="442.5" y="542.5" width="21.3" height="12.5" stroke="#151515" stroke-width="1.54" fill="#fff"/>
<rect x="439.5" y="555" width="28" height="5" stroke="#151515" stroke-width="1.68" fill="#fff"/>
<rect x="440.5" y="552.5" width="3" height="3" stroke="#151515" stroke-width="0.9799999999999999" fill="#333"/>
<rect x="463.5" y="552.5" width="3" height="3" stroke="#151515" stroke-width="0.9799999999999999" fill="#333"/>
<rect x="441" y="560" width="4" height="3" stroke="#151515" stroke-width="0.9799999999999999" fill="#333"/>
<rect x="444" y="560" width="19.8" height="4.5" stroke="#151515" stroke-width="1.26" fill="#fff"/>
<path d="M453.5 560H463.8V569H457V565H453.5Z" stroke="#151515" stroke-width="1.26" fill="url(#h)" />
<path d="M453 565H444C433 568 429.5 578 429.5 590V600" stroke="#151515" stroke-width="1.54" fill="none" />
<path d="M461.5 567C471 569 475.5 579 475.5 590V600" stroke="#151515" stroke-width="3.6399999999999997" fill="none" />
<path d="M461.5 567C471 569 475.5 579 475.5 590V600" stroke="#ddd" stroke-width="1.1199999999999999" fill="none" stroke-dasharray="2 1.6"/>
<rect x="453.5" y="572" width="4.5" height="23" stroke="#151515" stroke-width="1.54" fill="#fff"/>
<line x1="457.2" y1="574" x2="457.2" y2="594" stroke="#151515" stroke-width="1.9599999999999997"/>
<rect x="417.5" y="600" width="35.8" height="8.8" stroke="#151515" stroke-width="1.54" fill="#fff"/>
<line x1="417.5" y1="602.8" x2="453" y2="602.8" stroke="#151515" stroke-width="1.1199999999999999"/>
<line x1="417.5" y1="605.6" x2="453" y2="605.6" stroke="#151515" stroke-width="1.1199999999999999"/>
<rect x="420.3" y="595" width="6" height="5" stroke="#151515" stroke-width="1.26" fill="#fff"/>
<circle cx="423.3" cy="594.8" r="1.8" stroke="#151515" stroke-width="1.1199999999999999" fill="#333"/>
<rect x="420.3" y="608.8" width="6" height="4.2" stroke="#151515" stroke-width="1.26" fill="#333"/>
<rect x="434.5" y="595" width="6" height="5" stroke="#151515" stroke-width="1.26" fill="#fff"/>
<circle cx="437.5" cy="594.8" r="1.8" stroke="#151515" stroke-width="1.1199999999999999" fill="#333"/>
<rect x="434.5" y="608.8" width="6" height="4.2" stroke="#151515" stroke-width="1.26" fill="#333"/>
<path d="M470 600.5H486V605H481V610.5H476V605.5H470Z" stroke="#151515" stroke-width="1.26" fill="url(#h)" />
<rect x="481" y="594" width="5" height="7" stroke="#151515" stroke-width="1.1199999999999999" fill="#333"/>
<circle cx="483.5" cy="593.5" r="2.2" stroke="#151515" stroke-width="1.1199999999999999" fill="#333"/>
<rect x="476.5" y="596.5" width="3.2" height="4" stroke="#151515" stroke-width="0.9799999999999999" fill="#555"/>
<path d="M453.5 600H458.5V609C459 613.5 462 613 465 609.5C468.5 605 471 603.5 477 603.5" stroke="#151515" stroke-width="3.5" fill="none" />
<path d="M453.5 600H458.5V609C459 613.5 462 613 465 609.5C468.5 605 471 603.5 477 603.5" stroke="#ccc" stroke-width="1.1199999999999999" fill="none" stroke-dasharray="1.6 1.6"/>
<path d="M460.5 602.5C465 602.5 468 601.5 471 601" stroke="#151515" stroke-width="1.26" fill="none" />
<path d="M453.5 600H459V609L462.5 613L459 616.5H453.5Z" stroke="#151515" stroke-width="1.26" fill="url(#h)" />
<rect x="453.5" y="594.5" width="5" height="6" stroke="#151515" stroke-width="1.1199999999999999" fill="#333"/>
<rect x="409.5" y="600" width="5.5" height="53.7" stroke="#151515" stroke-width="1.68" fill="#fff"/>
<path d="M415 608.8H417.5M415 645H444" stroke="#151515" stroke-width="1.54" fill="none" />
<line x1="417.2" y1="608.8" x2="417.2" y2="645" stroke="#151515" stroke-width="1.1199999999999999"/>
<path d="M453.3 616L443.5 645M453.3 620.5L446.8 645" stroke="#151515" stroke-width="1.26" fill="none" />
<path d="M451.8 616H455.2L467.5 641H498V646H464.5Z" stroke="#151515" stroke-width="1.4" fill="url(#h)" />
<path d="M475 615C471.5 622 470 630 470.3 638" stroke="#151515" stroke-width="1.1199999999999999" fill="none" />
<circle cx="452" cy="640" r="4.4" stroke="#151515" stroke-width="1.8199999999999998" fill="#fff"/>
<text x="452" y="642.2" font-family="&quot;Liberation Serif&quot;,&quot;Noto Serif CJK SC&quot;,serif" font-size="5.5" font-weight="normal" text-anchor="middle" fill="#151515" stroke="none" stroke-width="0" >欧</text>
<path d="M476 610.5H489V605H492.5V600H498V615H476Z" stroke="#151515" stroke-width="1.4" fill="url(#h)" />
<path d="M489 601V608.5H492 V601" stroke="#151515" stroke-width="1.1199999999999999" fill="#fff" />
<line x1="498" y1="600" x2="498" y2="653.5" stroke="#151515" stroke-width="1.8199999999999998"/>
<path d="M492.5 646H498V653.7H492.5Z" stroke="#151515" stroke-width="1.4" fill="url(#h)" />
<rect x="493.6" y="648.5" width="3.3" height="5.2" stroke="#151515" stroke-width="0.9799999999999999" fill="#fff"/>
<line x1="453.3" y1="468" x2="453.3" y2="636" stroke="#151515" stroke-width="0.84" stroke-dasharray="6 2 1.5 2"/>
<line x1="369" y1="510" x2="478" y2="510" stroke="#151515" stroke-width="0.84" stroke-dasharray="7 2 1.5 2"/>
<line x1="423.8" y1="446" x2="423.8" y2="466" stroke="#151515" stroke-width="0.9799999999999999"/>
<line x1="483" y1="446" x2="483" y2="466" stroke="#151515" stroke-width="0.9799999999999999"/>
<line x1="423.8" y1="451.3" x2="483" y2="451.3" stroke="#151515" stroke-width="1.1199999999999999"/><path d="M483 451.3L478 452.6L478 450Z" fill="#151515" stroke="none"/><path d="M423.8 451.3L428.8 450L428.8 452.6Z" fill="#151515" stroke="none"/>
<text x="455" y="449" font-family="&quot;Liberation Serif&quot;,&quot;Noto Serif CJK SC&quot;,serif" font-size="12" font-weight="bold" text-anchor="middle" fill="#151515" stroke="none" stroke-width="0" letter-spacing="1.2" >D0</text>
<line x1="483" y1="465" x2="511" y2="465" stroke="#151515" stroke-width="0.9799999999999999"/>
<line x1="498" y1="627" x2="511.5" y2="627" stroke="#151515" stroke-width="0.9799999999999999"/>
<line x1="506.5" y1="465" x2="506.5" y2="627" stroke="#151515" stroke-width="1.1199999999999999"/><path d="M506.5 627L505.2 622L507.8 622Z" fill="#151515" stroke="none"/><path d="M506.5 465L507.8 470L505.2 470Z" fill="#151515" stroke="none"/>
<text x="504" y="544" font-family="&quot;Liberation Serif&quot;,&quot;Noto Serif CJK SC&quot;,serif" font-size="11.5" font-weight="bold" text-anchor="middle" fill="#151515" stroke="none" stroke-width="0" letter-spacing="1" transform="rotate(-90 504 544)" >H1/H2</text>
<line x1="363.5" y1="600" x2="409.5" y2="600" stroke="#151515" stroke-width="0.9799999999999999"/>
<line x1="363.5" y1="653.7" x2="409.5" y2="653.7" stroke="#151515" stroke-width="0.9799999999999999"/>
<line x1="366.3" y1="600" x2="366.3" y2="653.7" stroke="#151515" stroke-width="1.1199999999999999"/><path d="M366.3 653.7L365 648.7L367.6 648.7Z" fill="#151515" stroke="none"/><path d="M366.3 600L367.6 605L365 605Z" fill="#151515" stroke="none"/>
<text x="364.2" y="628.7" font-family="&quot;Liberation Serif&quot;,&quot;Noto Serif CJK SC&quot;,serif" font-size="11.5" font-weight="bold" text-anchor="middle" fill="#151515" stroke="none" stroke-width="0" transform="rotate(-90 364.2 628.7)" >D</text>
<line x1="378.5" y1="604.5" x2="408" y2="604.5" stroke="#151515" stroke-width="0.9799999999999999"/>
<line x1="378.5" y1="649.5" x2="408" y2="649.5" stroke="#151515" stroke-width="0.9799999999999999"/>
<line x1="382" y1="604.5" x2="382" y2="649.5" stroke="#151515" stroke-width="1.1199999999999999"/><path d="M382 649.5L380.7 644.5L383.3 644.5Z" fill="#151515" stroke="none"/><path d="M382 604.5L383.3 609.5L380.7 609.5Z" fill="#151515" stroke="none"/>
<text x="379.7" y="628" font-family="&quot;Liberation Serif&quot;,&quot;Noto Serif CJK SC&quot;,serif" font-size="11.5" font-weight="bold" text-anchor="middle" fill="#151515" stroke="none" stroke-width="0" letter-spacing="0.5" transform="rotate(-90 379.7 628)" >D1</text>
<line x1="393.5" y1="607.5" x2="408" y2="607.5" stroke="#151515" stroke-width="0.9799999999999999"/>
<line x1="393.5" y1="646.3" x2="408" y2="646.3" stroke="#151515" stroke-width="0.9799999999999999"/>
<line x1="397.5" y1="607.5" x2="397.5" y2="646.3" stroke="#151515" stroke-width="1.1199999999999999"/><path d="M397.5 646.3L396.2 641.3L398.8 641.3Z" fill="#151515" stroke="none"/><path d="M397.5 607.5L398.8 612.5L396.2 612.5Z" fill="#151515" stroke="none"/>
<text x="395.2" y="628" font-family="&quot;Liberation Serif&quot;,&quot;Noto Serif CJK SC&quot;,serif" font-size="11.5" font-weight="bold" text-anchor="middle" fill="#151515" stroke="none" stroke-width="0" letter-spacing="0.5" transform="rotate(-90 395.2 628)" >D2</text>
<line x1="493" y1="653.7" x2="493" y2="689.5" stroke="#151515" stroke-width="0.9799999999999999"/>
<line x1="497.3" y1="653.7" x2="497.3" y2="701" stroke="#151515" stroke-width="1.26"/>
<line x1="487.5" y1="669.5" x2="495" y2="669.5" stroke="#151515" stroke-width="0.9799999999999999"/>
<path d="M495.5 669.5L491.5 670.8L491.5 668.2Z" fill="#151515" stroke="none"/>
<line x1="498" y1="669.5" x2="515" y2="669.5" stroke="#151515" stroke-width="0.9799999999999999"/>
<path d="M498 669.5L502.5 668.2L502.5 670.8Z" fill="#151515" stroke="none"/>
<text x="510.5" y="667" font-family="&quot;Liberation Serif&quot;,&quot;Noto Serif CJK SC&quot;,serif" font-size="11" font-weight="bold" text-anchor="middle" fill="#151515" stroke="none" stroke-width="0" >f</text>
<line x1="475" y1="685.7" x2="493" y2="685.7" stroke="#151515" stroke-width="0.9799999999999999"/>
<path d="M493 685.7L488.5 687L488.5 684.4Z" fill="#151515" stroke="none"/>
<line x1="498" y1="685.7" x2="508" y2="685.7" stroke="#151515" stroke-width="0.9799999999999999"/>
<path d="M498 685.7L502.5 684.4L502.5 687Z" fill="#151515" stroke="none"/>
<text x="482.5" y="683.5" font-family="&quot;Liberation Serif&quot;,&quot;Noto Serif CJK SC&quot;,serif" font-size="11" font-weight="bold" text-anchor="middle" fill="#151515" stroke="none" stroke-width="0" >b</text>
<line x1="409.5" y1="653.7" x2="409.5" y2="701" stroke="#151515" stroke-width="0.9799999999999999"/>
<line x1="409.5" y1="697.3" x2="497.3" y2="697.3" stroke="#151515" stroke-width="1.1199999999999999"/><path d="M497.3 697.3L492.3 698.6L492.3 696Z" fill="#151515" stroke="none"/><path d="M409.5 697.3L414.5 696L414.5 698.6Z" fill="#151515" stroke="none"/>
<text x="455" y="695.3" font-family="&quot;Liberation Serif&quot;,&quot;Noto Serif CJK SC&quot;,serif" font-size="11.5" font-weight="bold" text-anchor="middle" fill="#151515" stroke="none" stroke-width="0" >L</text>
<text x="449" y="658" font-family="&quot;Liberation Serif&quot;,&quot;Noto Serif CJK SC&quot;,serif" font-size="11.5" font-weight="bold" text-anchor="start" fill="#151515" stroke="none" stroke-width="0" letter-spacing="0.9" >Z−Φd</text>
<path d="M462 660H481.5L491 650" stroke="#151515" stroke-width="1.1199999999999999" fill="none" />
<text x="393.3" y="725.5" font-family="&quot;Liberation Serif&quot;,&quot;Noto Serif CJK SC&quot;,serif" font-size="10.3" font-weight="500" text-anchor="start" fill="#151515" stroke="none" stroke-width="0" ><tspan font-weight="bold" letter-spacing="2.3">G941S</tspan><tspan letter-spacing="2.9" font-weight="600">型隔膜阀(堰式)</tspan></text></g>
<!--/DRAW4-->
<!--LOGO-->
<g id="logo"><path d="M 279.25 406.75 C 282.25 404.8 287.5 405.25 290.5 406.3 C 295 409 298 412.75 301.75 415.75 C 304.75 418 307.75 420.25 310 422.5 C 316 428.5 320.5 432.25 321.7 440.5 C 322 445 319.75 447.25 318.25 448.3 C 314.5 451 311.5 453.25 307.75 457.75 C 304.75 461.5 303.25 465.25 301 467.8 C 298 471.7 292 473.5 286.75 471.1 C 282.25 470.5 278.5 467.5 274.75 460.75 C 273.25 457 271.75 453.25 268.75 451 C 265 448.75 259 447.25 256.3 442 C 254.2 436.75 256 430.75 260.5 427.75 C 265 425.5 268.75 423.25 271.75 418.75 C 274 415 275.5 409.75 279.25 406.75 Z" fill="#1b8fe0" stroke="none"/>
<path d="M 290.2 406 C 295 409 298 412.75 301.75 415.75 C 304.75 418 307.75 420.25 310 422.5 C 316 428.5 320.5 432.25 321.7 440.5 C 322 445 319.75 447.25 318.25 448.3 C 314.5 451 311.5 453.25 307.75 457.75 C 304.75 461.5 303.25 465.25 301 467.8 C 298 471.7 292 473.5 286.75 471.1 C 284.8 466 286.75 460 290.5 455.5 C 292.75 452.8 294.25 451.3 295 449.8 C 300.25 446.5 302.5 442.75 301.3 438.7 C 295 433.75 287.5 432.25 281.95 427.3 C 286 422.5 289.3 418.75 290.2 414.25 C 290.8 411.25 290.8 408.25 290.2 406 Z" fill="#fdc816" stroke="#fdc816" stroke-width="0.9"/>
<path d="M 281.95 427.3 C 287.5 432.25 295 433.75 301.3 438.7 C 302.5 442.75 300.25 446.5 295 449.8 C 292 446.8 283 445 275.8 441.25 C 273.25 437.5 277 431.8 281.95 427.3 Z" fill="#fff" stroke="none"/>
<path d="M 274 442 C 272.5 448 272.8 455.5 275.2 461.5" fill="none" stroke="#7cc4f2" stroke-width="0.6"/>
<path d="M 301.75 416.2 C 304.3 422.5 304.75 431.5 302.8 439.3" fill="none" stroke="#ffe070" stroke-width="0.6"/>
<path d="M 290.2 406 C 291.25 410.5 290.2 416.5 287.5 421" fill="none" stroke="#bfe3c0" stroke-width="0.5"/>
<text x="232.65" y="498" font-family="&quot;Liberation Sans&quot;,sans-serif" font-size="27" font-weight="bold" fill="#1b8fe0" stroke="#1b8fe0" stroke-width="1.3" textLength="16.5" lengthAdjust="spacingAndGlyphs">L</text>
<text x="249.95" y="498" font-family="&quot;Liberation Sans&quot;,sans-serif" font-size="27" font-weight="bold" fill="#1b8fe0" stroke="#1b8fe0" stroke-width="1.3" textLength="16.0" lengthAdjust="spacingAndGlyphs">E</text>
<text x="267.35" y="498" font-family="&quot;Liberation Sans&quot;,sans-serif" font-size="27" font-weight="bold" fill="#1b8fe0" stroke="#1b8fe0" stroke-width="1.3" textLength="16.5" lengthAdjust="spacingAndGlyphs">L</text>
<text x="280.85" y="498" font-family="&quot;Liberation Sans&quot;,sans-serif" font-size="27" font-weight="bold" fill="#1b8fe0" stroke="#1b8fe0" stroke-width="1.3" textLength="18.0" lengthAdjust="spacingAndGlyphs">Y</text>
<rect x="258.7" y="486" width="7.4" height="4.7" stroke="none" stroke-width="0.0" fill="#fdc816"/>
<text x="302.5" y="496" font-family="&quot;Liberation Sans&quot;,&quot;Noto Sans CJK SC&quot;,sans-serif" font-size="21.3" font-weight="bold" text-anchor="start" fill="#5a5a5a" stroke="none" stroke-width="0" letter-spacing="1.5" >雷力</text></g>
<!--/LOGO-->
</svg>
</body></html>
